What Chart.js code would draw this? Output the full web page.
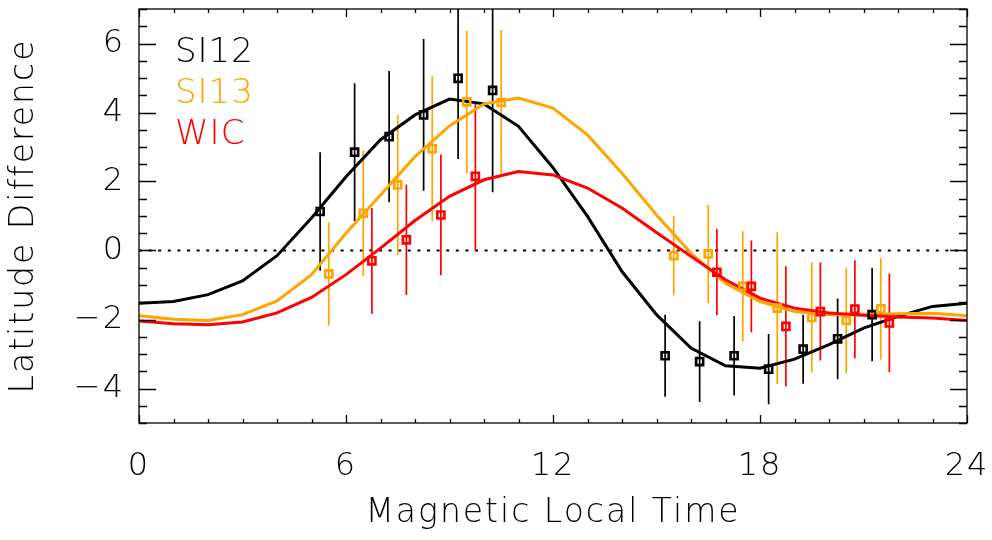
<!DOCTYPE html>
<html>
<head>
<meta charset="utf-8">
<script src="https://cdn.jsdelivr.net/npm/chart.js@4.4.1/dist/chart.umd.min.js"></script>
<style>
  html, body { margin: 0; padding: 0; background: #fff; }
  canvas { display: block; }
</style>
</head>
<body>
<canvas id="c" width="992" height="540"></canvas>
<script>
// ---- data ----
const mlt = [0,1,2,3,4,5,6,7,8,9,10,11,12,13,14,15,16,17,18,19,20,21,22,23,24];
const si12Line = [-1.53,-1.48,-1.28,-0.88,-0.15,0.94,2.14,3.21,3.93,4.39,4.25,3.60,2.40,0.99,-0.61,-1.86,-2.83,-3.34,-3.41,-3.15,-2.73,-2.25,-1.91,-1.62,-1.53];
const si13Line = [-1.89,-1.99,-2.03,-1.86,-1.46,-0.70,0.50,1.61,2.72,3.61,4.25,4.42,4.13,3.35,2.24,1.03,-0.08,-0.95,-1.48,-1.77,-1.86,-1.86,-1.83,-1.82,-1.89];
const wicLine  = [-2.04,-2.12,-2.15,-2.07,-1.81,-1.36,-0.70,0.07,0.87,1.57,2.05,2.29,2.19,1.81,1.23,0.52,-0.17,-0.85,-1.38,-1.67,-1.81,-1.88,-1.93,-1.96,-2.03];

const si12MLT = [5.25,6.25,7.25,8.25,9.25,10.25,15.25,16.25,17.25,18.25,19.25,20.25,21.25];
const si12Val = [1.13,2.85,3.30,3.93,4.99,4.64,-3.05,-3.22,-3.05,-3.44,-2.86,-2.56,-1.86];
const si12Err = [1.72,2.00,1.90,2.20,2.34,2.95,1.19,1.17,1.15,1.02,1.00,1.17,1.35];

const si13MLT = [5.5,6.5,7.5,8.5,9.5,10.5,15.5,16.5,17.5,18.5,19.5,20.5,21.5];
const si13Val = [-0.68,1.08,1.90,2.95,4.31,4.29,-0.15,-0.10,-1.04,-1.67,-1.94,-2.03,-1.69];
const si13Err = [1.50,1.81,2.03,2.10,2.07,2.10,1.15,1.42,1.60,2.20,1.60,1.53,1.47];

const wicMLT = [6.75,7.75,8.75,9.75,16.75,17.75,18.75,19.75,20.75,21.75];
const wicVal = [-0.30,0.31,1.03,2.15,-0.63,-1.04,-2.20,-1.77,-1.70,-2.10];
const wicErr = [1.53,1.60,1.75,2.16,1.25,1.33,1.74,1.42,1.42,1.43];

const seriesNames = ['SI12', 'SI13', 'WIC'];
const xTicks = [0, 6, 12, 18, 24];
const yTicks = [-4, -2, 0, 2, 4, 6];
const zeroRef = [0, 0];
const xTitle = 'Magnetic Local Time';
const yTitle = 'Latitude Difference';

// ---- styles ----
const COLORS = ['#000000', '#FFA500', '#FF0000'];
const FONT = "'DejaVu Sans', sans-serif";

const toXY = (xs, ys) => xs.map((x, i) => ({ x, y: ys[i] }));
const errSegs = (xs, vs, es) => {
  const out = [];
  xs.forEach((x, i) => { out.push({ x, y: vs[i] - es[i] }, { x, y: vs[i] + es[i] }, { x, y: null }); });
  return out;
};

const lineDs = (data, color, order) => ({
  type: 'line', data, borderColor: color, borderWidth: 3, pointRadius: 0,
  tension: 0, fill: false, order
});
const errDs = (data, color, order) => ({
  type: 'line', data, borderColor: color, borderWidth: 1.7, pointRadius: 0,
  spanGaps: false, fill: false, order
});
const ptDs = (label, data, color, order) => ({
  type: 'line', label, data, showLine: false, pointStyle: 'rect', pointRadius: 5,
  pointBorderWidth: 2.6, pointBorderColor: color, pointBackgroundColor: 'rgba(0,0,0,0)',
  borderColor: color, order
});

const datasets = [
  { type: 'line', data: [{ x: 0, y: zeroRef[0] }, { x: 24, y: zeroRef[1] }], borderColor: '#000',
    borderWidth: 2, borderDash: [3, 6.6], pointRadius: 0, order: 20 },
  errDs(errSegs(si12MLT, si12Val, si12Err), COLORS[0], 12),
  errDs(errSegs(si13MLT, si13Val, si13Err), COLORS[1], 11),
  errDs(errSegs(wicMLT, wicVal, wicErr), COLORS[2], 10),
  lineDs(toXY(mlt, si12Line), COLORS[0], 9),
  lineDs(toXY(mlt, si13Line), COLORS[1], 8),
  lineDs(toXY(mlt, wicLine), COLORS[2], 7),
  ptDs(seriesNames[0], toXY(si12MLT, si12Val), COLORS[0], 3),
  ptDs(seriesNames[1], toXY(si13MLT, si13Val), COLORS[1], 2),
  ptDs(seriesNames[2], toXY(wicMLT, wicVal), COLORS[2], 1),
];

const spacingPlugin = {
  id: 'spacing',
  beforeDraw(chart) { chart.ctx.letterSpacing = '2px'; }
};

const framePlugin = {
  id: 'frame',
  afterDatasetsDraw(chart) {
    const { ctx, chartArea: a, scales: { x, y } } = chart;
    ctx.save();
    ctx.strokeStyle = '#000';
    ctx.lineWidth = 1.3;
    ctx.strokeRect(a.left, a.top, a.right - a.left, a.bottom - a.top);
    ctx.beginPath();
    for (let h = x.min; h <= x.max; h += 1) {
      const px = Math.round(x.getPixelForValue(h)) + 0.5;
      const len = (h % 6 === 0) ? 8 : 4;
      ctx.moveTo(px, a.bottom); ctx.lineTo(px, a.bottom - len);
      ctx.moveTo(px, a.top); ctx.lineTo(px, a.top + len);
    }
    for (let v = y.min; v <= y.max + 1e-9; v += 0.5) {
      const py = Math.round(y.getPixelForValue(v)) + 0.5;
      const len = (Math.abs(v % 2) < 1e-9) ? 17 : 8;
      ctx.moveTo(a.left, py); ctx.lineTo(a.left + len, py);
      ctx.moveTo(a.right, py); ctx.lineTo(a.right - len, py);
    }
    ctx.stroke();
    // legend (text only, in series colours)
    ctx.letterSpacing = '1px';
    ctx.font = "200 34px " + FONT;
    ctx.textAlign = 'left';
    ctx.textBaseline = 'alphabetic';
    seriesNames.forEach((name, i) => {
      ctx.fillStyle = COLORS[i];
      ctx.fillText(name, a.left + 36, a.top + 53 + i * 41);
    });
    ctx.restore();
  }
};

const noPad = s => { s.paddingTop = 0; s.paddingBottom = 0; s.paddingLeft = 0; s.paddingRight = 0; };

new Chart(document.getElementById('c'), {
  data: { datasets },
  options: {
    responsive: false,
    animation: false,
    events: [],
    layout: { padding: { top: 9, right: 25, left: 0, bottom: 0 } },
    plugins: { legend: { display: false }, tooltip: { enabled: false } },
    scales: {
      x: {
        type: 'linear', min: 0, max: 24,
        afterBuildTicks: s => { s.ticks = xTicks.map(v => ({ value: v })); },
        afterFit: s => { s.height = 117; noPad(s); },
        grid: { display: false, drawTicks: false },
        border: { display: false },
        ticks: { color: '#000', font: { family: FONT, size: 32, weight: 200 }, padding: 24,
                 maxRotation: 0, autoSkip: false },
        title: { display: true, text: xTitle, color: '#000',
                 font: { family: FONT, size: 33, weight: 200 }, padding: { top: 0, bottom: 7 } }
      },
      y: {
        type: 'linear', min: -5, max: 7,
        afterBuildTicks: s => { s.ticks = yTicks.map(v => ({ value: v })); },
        afterFit: s => { s.width = 139; noPad(s); },
        grid: { display: false, drawTicks: false },
        border: { display: false },
        ticks: { color: '#000', font: { family: FONT, size: 32, weight: 200 }, padding: 14,
                 callback: v => (v < 0 ? '\u2212' + Math.abs(v) : String(v)) },
        title: { display: true, text: yTitle, color: '#000',
                 font: { family: FONT, size: 33, weight: 200 }, padding: { top: 5, bottom: 0 } }
      }
    }
  },
  plugins: [spacingPlugin, framePlugin]
});
</script>
</body>
</html>
